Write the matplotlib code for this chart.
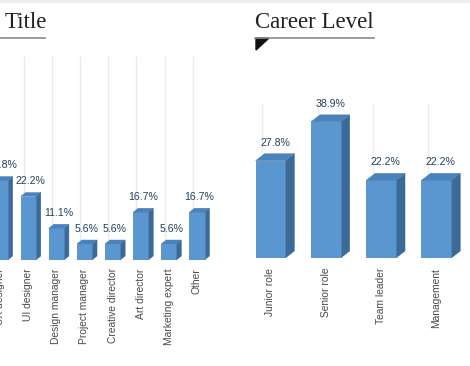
import matplotlib.pyplot as plt
from matplotlib.patches import Polygon
from matplotlib.lines import Line2D

# data
title_labels = ['UX designer', 'UI designer', 'Design manager', 'Project manager',
                'Creative director', 'Art director', 'Marketing expert', 'Other']
title_vals = [27.8, 22.2, 11.1, 5.6, 5.6, 16.7, 5.6, 16.7]

level_labels = ['Junior role', 'Senior role', 'Team leader', 'Management']
level_vals = [27.8, 38.9, 22.2, 22.2]

FRONT = '#5a96d0'
SIDE = '#3b6a98'
TOP = '#4a82bb'
EDGE = '#4a80b6'
VALCOL = '#22405f'
LABCOL = '#4a4a4a'
GRID = '#ebebeb'

W, H = 470, 366
fig = plt.figure(figsize=(W / 100, H / 100), dpi=100)
fig.patch.set_facecolor('white')


def px_axes(x0, x1, ytop, ybot):
    # axes rectangle given in pixels from top-left
    return fig.add_axes([x0 / W, 1 - ybot / H, (x1 - x0) / W, (ybot - ytop) / H])


def bars3d(ax, vals, labels, width, dx_px, dy_px, pad, grid_top):
    xs = list(range(len(vals)))
    inv = ax.transData.inverted()
    o = inv.transform((0, 0))
    d = inv.transform((dx_px, dy_px))
    dx, dy = d[0] - o[0], d[1] - o[1]
    # back gridlines
    ax.vlines([x - 0.15 for x in xs], 1.7, grid_top, color=GRID, lw=1.0, zorder=0)
    ax.bar(xs, vals, width=width, color=FRONT, edgecolor=EDGE, lw=0.5, zorder=3)
    for x, v in zip(xs, vals):
        l, r = x - width / 2, x + width / 2
        ax.add_patch(Polygon([(r, 0), (r + dx, dy), (r + dx, v + dy), (r, v)],
                             closed=True, fc=SIDE, ec=SIDE, lw=0.3, zorder=2))
        ax.add_patch(Polygon([(l, v), (r, v), (r + dx, v + dy), (l + dx, v + dy)],
                             closed=True, fc=TOP, ec=TOP, lw=0.3, zorder=2))
        ax.annotate(f'{v:.1f}%', (x + dx / 2, v + dy), xytext=(0, 8),
                    textcoords='offset points', ha='center', va='center',
                    fontsize=7.6, color=VALCOL, family='Liberation Sans')
    ax.set_xticks(xs)
    ax.set_xticklabels(labels, rotation=90, fontsize=7.4, color=LABCOL,
                       family='Liberation Sans')
    ax.tick_params(axis='x', length=0, pad=pad)
    ax.set_yticks([])
    for s in ax.spines.values():
        s.set_visible(False)
    ax.axhline(-0.9, color='#ececec', lw=1.2, zorder=1)


# left panel (cut off at the left edge)
ax1 = px_axes(0, 236, 40, 260)
ax1.set_xlim(-0.004, 8.39)
ax1.set_ylim(0, 220 / 2.86)
bars3d(ax1, title_vals, title_labels, 0.54, 5, 4, 6, 71.3)

# right panel
ax2 = px_axes(240, 470, 40, 258)
ax2.set_xlim(-0.5515, 3.6076)
ax2.set_ylim(0, 218 / 3.5)
bars3d(ax2, level_vals, level_labels, 0.54, 9, 7, 7, 44.3)

# headings
fig.text(5 / W, 1 - 28 / H, 'Title', fontsize=16.5, family='Liberation Serif',
         color='#222222', va='baseline')
fig.text(255 / W, 1 - 28 / H, 'Career Level', fontsize=16.5, family='Liberation Serif',
         color='#222222', va='baseline')
fig.add_artist(Line2D([0, 45 / W], [1 - 37.5 / H] * 2, color='#8a8a8a', lw=1.2))
fig.add_artist(Line2D([255 / W, 374 / W], [1 - 37.5 / H] * 2, color='#8a8a8a', lw=1.2))
fig.add_artist(Polygon([(256 / W, 1 - 38 / H), (269 / W, 1 - 38 / H), (256 / W, 1 - 50 / H)],
                       closed=True, fc='#111111', ec='#111111', transform=fig.transFigure))
fig.add_artist(Line2D([0, 1], [1 - 1 / H] * 2, color='#ececec', lw=2))

fig.savefig('out.png', dpi=100)
